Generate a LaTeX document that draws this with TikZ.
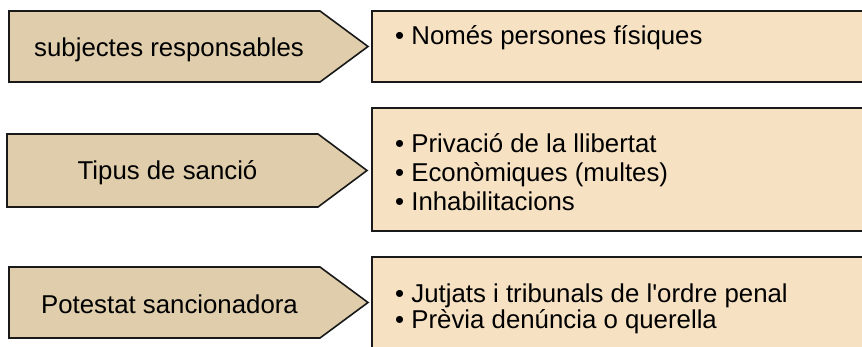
\documentclass[tikz,border=0pt]{standalone}
\usepackage{fontspec}
\setmainfont{Liberation Sans}
\definecolor{arrowfill}{RGB}{223,205,171}
\definecolor{boxfill}{RGB}{246,225,194}
\definecolor{edge}{RGB}{25,25,25}
\begin{document}
\begin{tikzpicture}[x=1pt,y=-1pt,
  shapeline/.style={draw=edge,line width=1.6pt,line join=miter},
  arrowshape/.style={shapeline,fill=arrowfill},
  boxshape/.style={shapeline,fill=boxfill},
  lbl/.style={font=\fontsize{25.8pt}{30pt}\selectfont,inner sep=0pt,anchor=base},
  item/.style={font=\fontsize{25.8pt}{30pt}\selectfont,inner sep=0pt,anchor=base west}]
\useasboundingbox (0,0) rectangle (862,347);
\clip (0,0) rectangle (862,347);
\fill[white] (0,0) rectangle (862,347);
% row 1
\draw[arrowshape] (9,11) -- (320,11) -- (368,46.5) -- (320,82) -- (9,82) -- cycle;
\node[lbl] (a1) at (169,57) {subjectes responsables};
\draw[boxshape] (372,11) rectangle (880,82);
\node[item] (b11) at (395,44.5) {• Només persones físiques};
% row 2
\draw[arrowshape] (7,134) -- (318,134) -- (367,170.5) -- (318,207) -- (7,207) -- cycle;
\node[lbl] (a2) at (167.5,180) {Tipus de sanció};
\draw[boxshape] (372,108) rectangle (880,231);
\node[item] (b21) at (395,153) {• Privació de la llibertat};
\node[item] (b22) at (395,182) {• Econòmiques (multes)};
\node[item] (b23) at (395,211) {• Inhabilitacions};
% row 3
\draw[arrowshape] (9,267) -- (320,267) -- (368,302.5) -- (320,338) -- (9,338) -- cycle;
\node[lbl] (a3) at (169.5,313) {Potestat sancionadora};
\draw[boxshape] (372,257) rectangle (880,360);
\node[item] (b31) at (395,302) {• Jutjats i tribunals de l\textquotesingle ordre penal};
\node[item] (b32) at (395,329) {• Prèvia denúncia o querella};
\end{tikzpicture}
\end{document}
